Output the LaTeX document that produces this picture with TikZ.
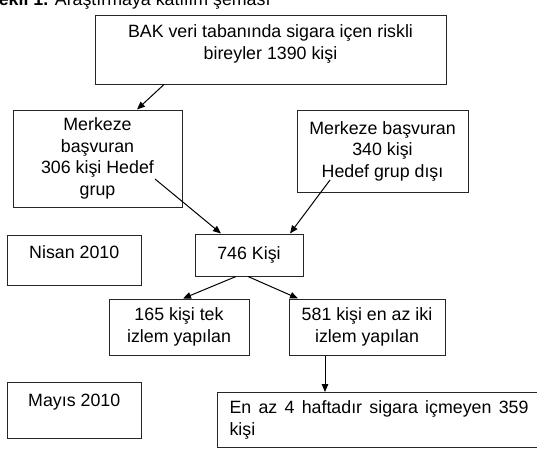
\documentclass[tikz,border=0pt]{standalone}
\usepackage{fontspec}
\setmainfont{Liberation Sans}
\usepackage{tikz}
\usetikzlibrary{arrows.meta}

\begin{document}
\begin{tikzpicture}[x=1pt,y=-1pt,font=\fontsize{17.8}{21.5}\selectfont,
  kutu/.style={draw=black!85,line width=1pt,align=center,inner sep=0pt},
  ok/.style={line width=1pt,-{Triangle[length=8pt,width=6.5pt]}}]
  \useasboundingbox (0,0) rectangle (537,450);
  \node[anchor=base west] (baslik) at (-16.6,5) {\textbf{Şekil 1.} Araştırmaya katılım şeması};
  \node[kutu,minimum width=351pt,minimum height=69pt] (bak) at (270.5,49.5)
    {BAK veri tabanında sigara içen riskli\\bireyler 1390 kişi\rule[-15pt]{0pt}{15pt}};
  \node[kutu,minimum width=169pt,minimum height=97pt] (hedef) at (97.5,158.5)
    {Merkeze\\başvuran\\306 kişi Hedef\\grup};
  \node[kutu,minimum width=171pt,minimum height=82pt] (disi) at (382.5,151)
    {Merkeze başvuran\\340 kişi\\Hedef grup dışı};
  \node[kutu,minimum width=133.5pt,minimum height=50pt,text depth=16pt] (nisan) at (74.25,260) {Nisan 2010};
  \node[kutu,minimum width=108pt,minimum height=42pt] (toplam) at (249,255) {746 Kişi};
  \node[kutu,minimum width=140pt,minimum height=56pt] (tek) at (179,327) {165 kişi tek\\izlem yapılan};
  \node[kutu,minimum width=156pt,minimum height=56pt] (iki) at (367,327) {581 kişi en az iki\\izlem yapılan};
  \node[kutu,minimum width=133.5pt,minimum height=56pt,text depth=20pt] (mayis) at (74.25,410) {Mayıs 2010};
  \node[kutu,anchor=north west,align=justify,text width=299pt,inner xsep=12pt,minimum height=55pt] (birak) at (217,392)
    {En az 4 haftadır sigara içmeyen 359 kişi};

  \draw[ok] ([xshift=-106.5pt]bak.south) -- ([xshift=39.5pt]hedef.north);
  \draw[ok] ([shift={(57.5,20.5)}]hedef.center) -- ([xshift=-28pt]toplam.north);
  \draw[ok] ([shift={(-52.5,29)}]disi.center) -- ([xshift=41pt]toplam.north);
  \draw[ok] ([xshift=-13pt]toplam.south) -- ([xshift=4pt]tek.north);
  \draw[ok] ([xshift=-1pt]toplam.south) -- ([xshift=-69pt]iki.north);
  \draw[ok] ([xshift=-42pt]iki.south) -- ([xshift=108pt]birak.north west);
\end{tikzpicture}
\end{document}
